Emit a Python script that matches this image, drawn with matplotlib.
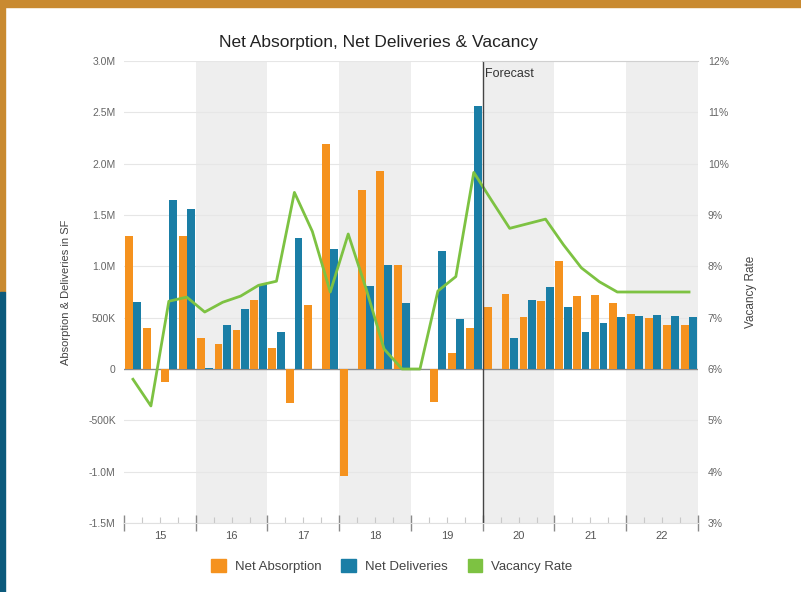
import matplotlib
matplotlib.use("Agg")
import matplotlib.pyplot as plt
from matplotlib import patches
import matplotlib.ticker as ticker
import numpy as np

plt.rcParams['font.family'] = ['Liberation Sans', 'DejaVu Sans']

# data (quarterly, 2015 Q1 .. 2022 Q4)
years = ['15', '16', '17', '18', '19', '20', '21', '22']
net_absorption = [1.30, 0.40, -0.13, 1.30,
                  0.30, 0.24, 0.38, 0.67,
                  0.20, -0.33, 0.62, 2.19,
                  -1.04, 1.74, 1.93, 1.01,
                  0.0, -0.32, 0.16, 0.40,
                  0.60, 0.73, 0.51, 0.66,
                  1.05, 0.71, 0.72, 0.64,
                  0.54, 0.50, 0.43, 0.43]
net_deliveries = [0.65, 0.0, 1.65, 1.56,
                  0.01, 0.43, 0.58, 0.83,
                  0.36, 1.28, 0.0, 1.17,
                  0.0, 0.81, 1.01, 0.64,
                  0.0, 1.15, 0.49, 2.56,
                  0.0, 0.30, 0.67, 0.80,
                  0.60, 0.36, 0.45, 0.51,
                  0.52, 0.53, 0.52, 0.51]
vacancy_rate = [5.80, 5.28, 7.32, 7.40,
                7.11, 7.30, 7.42, 7.63,
                7.71, 9.44, 8.68, 7.50,
                8.63, 7.56, 6.39, 6.00,
                6.00, 7.52, 7.80, 9.83,
                9.28, 8.74, 8.83, 8.92,
                8.42, 7.97, 7.70, 7.50,
                7.50, 7.50, 7.50, 7.50]
forecast_start = 20  # quarter index where forecast begins

ORANGE = '#f5921e'
BLUE = '#1a7ea6'
GREEN = '#7dc242'
GOLD = '#c98a30'
NAVY = '#0c5a7c'


def fmt_sf(v, pos):
    # left axis labels: 500K, 1.0M ...
    if v == 0:
        return '0'
    if abs(v) < 1:
        return f'{v * 1000:.0f}K'
    return f'{v:.1f}M'


fig = plt.figure(figsize=(8.01, 5.92), dpi=100)

# decorative page border strips
fig.patches.append(patches.Rectangle((0, 1 - 7 / 592), 1, 7 / 592, transform=fig.transFigure,
                                     color=GOLD, zorder=0))
fig.patches.append(patches.Rectangle((0, 300 / 592), 5 / 801, 292 / 592, transform=fig.transFigure,
                                     color=GOLD, zorder=0))
fig.patches.append(patches.Rectangle((0, 0), 5 / 801, 300 / 592, transform=fig.transFigure,
                                     color=NAVY, zorder=0))

ax = fig.add_axes([124 / 801, 1 - 523 / 592, 574 / 801, 462 / 592])
ax2 = ax.twinx()
ax.set_zorder(2)
ax.patch.set_visible(False)
ax2.set_zorder(1)

n = len(net_absorption)
x = np.arange(n) + 0.5

# alternate year shading
for i in range(1, len(years), 2):
    ax2.axvspan(i * 4, i * 4 + 4, color='#eeeeee', zorder=0, lw=0)

bw = 0.44
ax.bar(x - 0.23, net_absorption, bw, color=ORANGE, zorder=3)
ax.bar(x + 0.23, net_deliveries, bw, color=BLUE, zorder=3)
ax.axhline(0, color='#8a8a8a', lw=1, zorder=2)

ax.set_xlim(0, n)
ax.set_ylim(-1.5, 3.0)
ax2.set_ylim(3, 12)

# vacancy line goes through the right axis scale, drawn on the front axes
vac_on_left = ax.transData.inverted().transform(
    ax2.transData.transform(np.column_stack([x, vacancy_rate])))[:, 1]
ax.plot(x, vac_on_left, color=GREEN, lw=2, zorder=4)

for v in np.arange(-1.5, 3.01, 0.5):
    if v != 0:
        ax.axhline(v, color='#e6e6e6', lw=0.8, zorder=0.5)

# forecast marker
ax.axvline(forecast_start, color='#444444', lw=1, zorder=5)
ax.plot([forecast_start, n], [3.0, 3.0], color='#d0d0d0', lw=0.8, zorder=5, clip_on=False)
ax.text(forecast_start + 0.1, 2.93, 'Forecast', fontsize=9, color='#333333', va='top', ha='left')

ax.yaxis.set_major_locator(ticker.MultipleLocator(0.5))
ax.yaxis.set_major_formatter(ticker.FuncFormatter(fmt_sf))
ax2.yaxis.set_major_locator(ticker.MultipleLocator(1))
ax2.yaxis.set_major_formatter(ticker.FuncFormatter(lambda v, p: f'{v:.0f}%'))

ax.set_xticks(np.arange(0, n + 1, 4))
ax.set_xticklabels([])
ax.set_xticks(np.arange(0, n + 1, 1), minor=True)
ax.tick_params(axis='x', which='major', direction='inout', length=12, color='#8a8a8a', width=1)
ax.tick_params(axis='x', which='minor', direction='in', length=4, color='#c8c8c8', width=0.8)
for i, yr in enumerate(years):
    ax.text(i * 4 + 2, -1.58, yr, ha='center', va='top', fontsize=8, color='#555555')

ax.tick_params(axis='y', length=0, labelsize=7.5, labelcolor='#666666', pad=6)
ax2.tick_params(axis='y', length=0, labelsize=7.5, labelcolor='#666666', pad=7)

for a in (ax, ax2):
    for s in a.spines.values():
        s.set_visible(False)
ax.spines['bottom'].set_visible(True)
ax.spines['bottom'].set_color('#e0e0e0')

ax.set_ylabel('Absorption & Deliveries in SF', fontsize=8, color='#444444', labelpad=12)
ax2.set_ylabel('Vacancy Rate', fontsize=8.5, color='#444444', labelpad=12)

fig.text(378 / 801, 1 - 43 / 592, 'Net Absorption, Net Deliveries & Vacancy', ha='center', va='center',
         fontsize=12.5, color='#222222')

handles = [patches.Patch(color=ORANGE), patches.Patch(color=BLUE), patches.Patch(color=GREEN)]
fig.legend(handles, ['Net Absorption', 'Net Deliveries', 'Vacancy Rate'], loc='center',
           bbox_to_anchor=(392 / 801, 1 - 566 / 592), ncol=3, frameon=False, fontsize=9.5,
           handlelength=1.1, handleheight=1.1, handletextpad=0.7, columnspacing=1.5,
           labelcolor='#444444')

fig.savefig('out.png', dpi=100)
